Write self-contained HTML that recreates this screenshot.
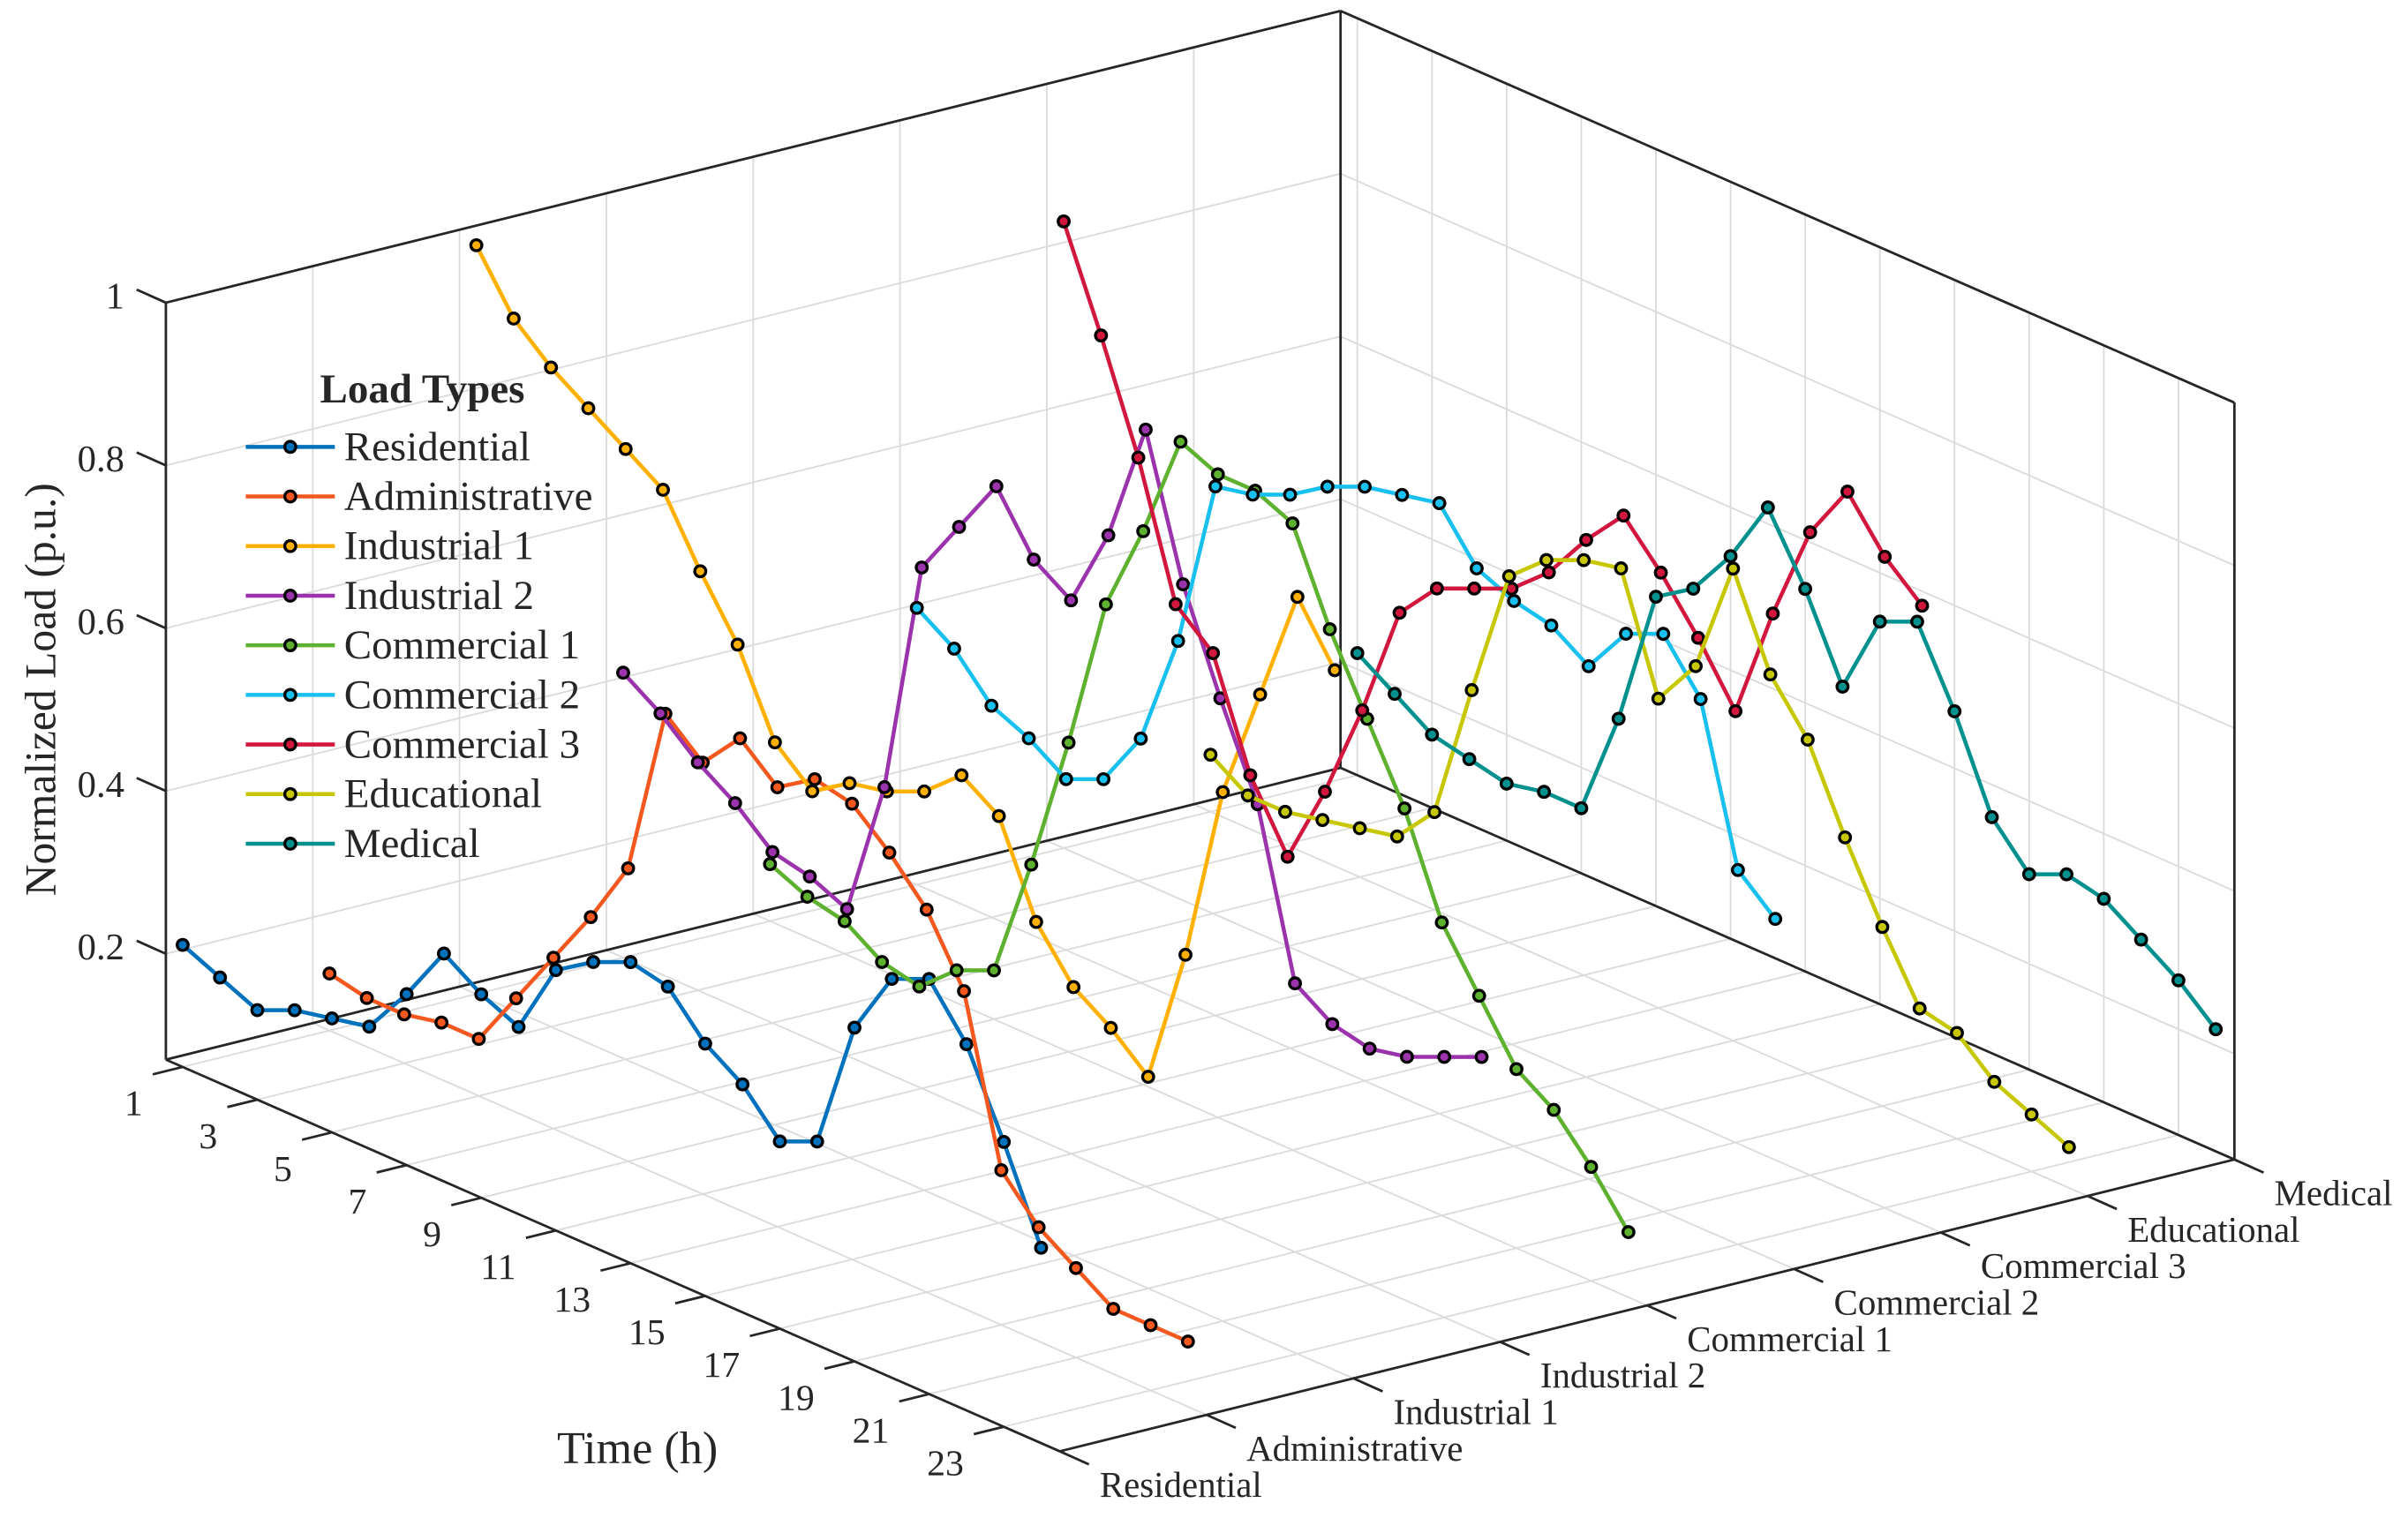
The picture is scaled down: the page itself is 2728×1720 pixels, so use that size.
<!DOCTYPE html>
<html>
<head>
<meta charset="utf-8">
<style>
html,body{margin:0;padding:0;background:#fff;}
svg{display:block;}
text{font-family:"Liberation Serif",serif;fill:#262626;}
</style>
</head>
<body>
<svg id="chart" width="2728" height="1720" viewBox="0 0 1567.8 988.5" preserveAspectRatio="none" xmlns="http://www.w3.org/2000/svg">
  <g id="grid"></g>
  <g id="box"></g>
  <g id="ticks"></g>
  <g id="series"></g>
  <text x="0" y="0" font-size="28.5" text-anchor="middle" transform="translate(36,449) rotate(-90)">Normalized Load (p.u.)</text>
  <text x="415" y="953" font-size="30" text-anchor="middle">Time (h)</text>
  <g id="legend">
    <text x="275" y="262" font-size="27" font-weight="bold" text-anchor="middle">Load Types</text>
  </g>
</svg>
<script>
const hours = [1,2,3,4,5,6,7,8,9,10,11,12,13,14,15,16,17,18,19,20,21,22,23,24];
const loadTypes = ["Residential","Administrative","Industrial 1","Industrial 2","Commercial 1","Commercial 2","Commercial 3","Educational","Medical"];
const timeTicks = [1,3,5,7,9,11,13,15,17,19,21,23];
const zTicks = [0.2,0.4,0.6,0.8,1];
const zTickLabels = ["0.2","0.4","0.6","0.8","1"];
const residential = [0.22,0.20,0.18,0.20,0.21,0.22,0.28,0.35,0.32,0.30,0.39,0.42,0.44,0.43,0.38,0.35,0.30,0.32,0.48,0.56,0.58,0.52,0.42,0.31];
const administrative = [0.14,0.13,0.13,0.14,0.14,0.21,0.28,0.35,0.43,0.64,0.60,0.65,0.61,0.64,0.63,0.59,0.54,0.46,0.26,0.21,0.18,0.15,0.15,0.15];
const industrial1 = [0.99,0.92,0.88,0.85,0.82,0.79,0.71,0.64,0.54,0.50,0.53,0.54,0.56,0.60,0.57,0.46,0.40,0.37,0.33,0.50,0.72,0.86,1.00,0.93];
const industrial2 = [0.42,0.39,0.35,0.32,0.28,0.27,0.25,0.42,0.71,0.78,0.85,0.78,0.75,0.85,1.00,0.83,0.71,0.60,0.40,0.37,0.36,0.37,0.39,0.41];
const commercial1 = [0.14,0.12,0.11,0.08,0.07,0.11,0.13,0.28,0.45,0.64,0.75,0.88,0.86,0.86,0.84,0.73,0.64,0.55,0.43,0.36,0.29,0.26,0.21,0.15];
const commercial2 = [0.41,0.38,0.33,0.31,0.28,0.30,0.37,0.51,0.72,0.73,0.75,0.78,0.80,0.81,0.82,0.76,0.74,0.73,0.70,0.76,0.78,0.72,0.53,0.49];
const commercial3 = [0.84,0.72,0.59,0.43,0.39,0.26,0.18,0.28,0.40,0.54,0.59,0.61,0.63,0.67,0.73,0.78,0.73,0.67,0.60,0.74,0.86,0.93,0.87,0.83];
const educational = [0.14,0.11,0.11,0.12,0.13,0.14,0.19,0.36,0.52,0.56,0.58,0.59,0.45,0.51,0.65,0.54,0.48,0.38,0.29,0.21,0.20,0.16,0.14,0.12];
const medical = [0.22,0.19,0.16,0.15,0.14,0.15,0.15,0.28,0.45,0.48,0.54,0.62,0.54,0.44,0.54,0.56,0.47,0.36,0.31,0.33,0.32,0.29,0.26,0.22];
const seriesColors = ["#0072BD","#F5581E","#FFB000","#9B34AC","#5DB12E","#17C0EE","#D2173F","#C6C700","#00918F"];

const allSeries = [residential,administrative,industrial1,industrial2,commercial1,commercial2,commercial3,educational,medical];
const T0=0.55,T1=24.5,K0=1,K1=9,Z0=0.07,Z1=1;
const O={x:108,y:690};
function proj(t,k,z){
  return {
    x: O.x + (t-T0)*24.3 + (k-K0)*95.6,
    y: O.y + (t-T0)*10.65 - (k-K0)*23.75 - (z-Z0)*530
  };
}
const NS="http://www.w3.org/2000/svg";
function mk(tag,attrs,parent){
  const e=document.createElementNS(NS,tag);
  for(const a in attrs) e.setAttribute(a,attrs[a]);
  parent.appendChild(e); return e;
}
function seg(a,b,parent,stroke,w){
  return mk("line",{x1:a.x,y1:a.y,x2:b.x,y2:b.y,stroke:stroke,"stroke-width":w},parent);
}
const grid=document.getElementById("grid");
const gc="#dcdcdc";
// floor grid
for(let k=1;k<=9;k++){ const l=seg(proj(T0,k,Z0),proj(T1,k,Z0),grid,gc,1.1);
  
   }
timeTicks.forEach(t=>{ const l=seg(proj(t,K0,Z0),proj(t,K1,Z0),grid,gc,1.1);
  
   });
// left wall (t=T0)
for(let k=1;k<=9;k++){ const l=seg(proj(T0,k,Z0),proj(T0,k,Z1),grid,gc,1.1);
  
   }
zTicks.forEach(z=>{ const l=seg(proj(T0,K0,z),proj(T0,K1,z),grid,gc,1.1);
  
   });
// right wall (k=K1)
timeTicks.forEach(t=>{ const l=seg(proj(t,K1,Z0),proj(t,K1,Z1),grid,gc,1.1);
  
   });
zTicks.forEach(z=>{ const l=seg(proj(T0,K1,z),proj(T1,K1,z),grid,gc,1.1);
  
   });

// box edges
const box=document.getElementById("box");
const bc="#262626";
const edges=[
  [[T0,K0,Z0],[T1,K0,Z0]],[[T1,K0,Z0],[T1,K1,Z0]],[[T0,K0,Z0],[T0,K1,Z0]],[[T0,K1,Z0],[T1,K1,Z0]],
  [[T0,K0,Z0],[T0,K0,Z1]],[[T1,K1,Z0],[T1,K1,Z1]],[[T0,K1,Z0],[T0,K1,Z1]],
  [[T0,K0,Z1],[T0,K1,Z1]],[[T0,K1,Z1],[T1,K1,Z1]]
];
edges.forEach(e=>{ const l=seg(proj(...e[0]),proj(...e[1]),box,bc,1.6);
  
   });

// ticks and labels
const tk=document.getElementById("ticks");
zTicks.forEach((z,i)=>{
  const p=proj(T0,K0,z);
  const l=seg(p,{x:p.x-19,y:p.y-8.5},tk,bc,1.6);
  
  
  const t=mk("text",{x:81,y:p.y-4,"font-size":24.5,"text-anchor":"end","dominant-baseline":"central"},tk);
  t.textContent=zTickLabels[i];
  
  
});
timeTicks.forEach(h=>{
  const p=proj(h,K0,Z0);
  const l=seg(p,{x:p.x-19.5,y:p.y+4.8},tk,bc,1.6);
  
  
  const t=mk("text",{x:p.x-26,y:p.y+24,"font-size":24,"text-anchor":"end","dominant-baseline":"central"},tk);
  t.textContent=String(h);
  
  
});
loadTypes.forEach((name,i)=>{
  const p=proj(T1,i+1,Z0);
  const l=seg(p,{x:p.x+19,y:p.y+8.5},tk,bc,1.6);
  
  
  const t=mk("text",{x:p.x+26,y:p.y+22,"font-size":23.5,"text-anchor":"start","dominant-baseline":"central"},tk);
  t.textContent=name;
  
  
});

// series
const sg=document.getElementById("series");
allSeries.forEach((vals,si)=>{
  const g=mk("g",{},sg);
  
  
  const pts=vals.map((v,i)=>proj(hours[i],si+1,v));
  const pl=mk("polyline",{points:pts.map(p=>p.x.toFixed(2)+","+p.y.toFixed(2)).join(" "),fill:"none",stroke:seriesColors[si],"stroke-width":2.6,"stroke-linejoin":"round"},g);
  
  
  pts.forEach(p=>{
    const c=mk("circle",{cx:p.x,cy:p.y,r:3.6,fill:seriesColors[si],stroke:"#000","stroke-width":1.9},g);
    
    
  });
});

// legend
const lg=document.getElementById("legend");
loadTypes.forEach((name,i)=>{
  const y=291+i*32.3;
  const g=mk("g",{},lg);
  
  
  mk("line",{x1:160,y1:y,x2:218,y2:y,stroke:seriesColors[i],"stroke-width":2.6},g);
  mk("circle",{cx:189,cy:y,r:3.6,fill:seriesColors[i],stroke:"#000","stroke-width":1.9},g);
  const t=mk("text",{x:224,y:y,"font-size":27,"dominant-baseline":"central"},g);
  t.textContent=name;
});
</script>
</body>
</html>
